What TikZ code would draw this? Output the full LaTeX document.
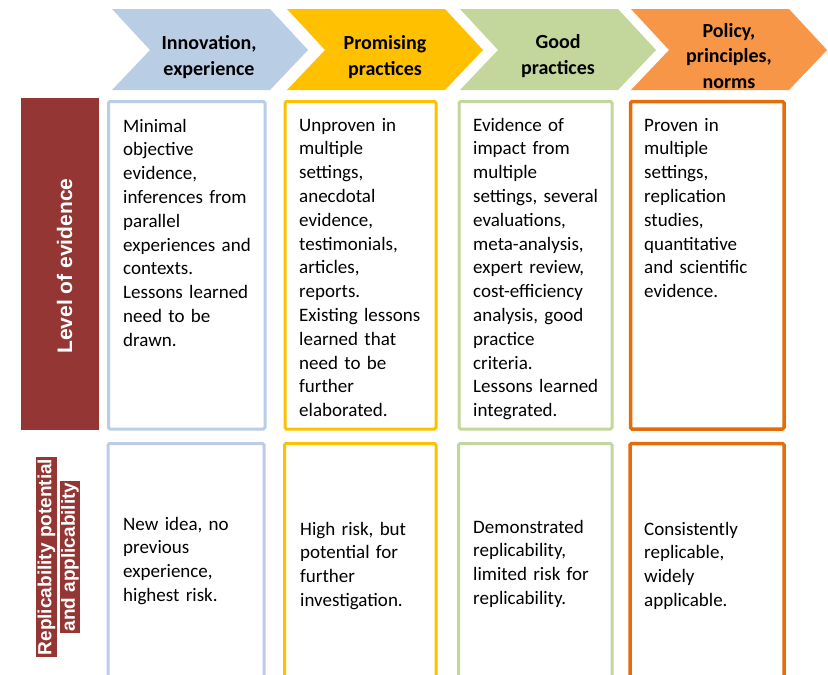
\documentclass[tikz,border=0pt]{standalone}
\usepackage{fontspec}
\setmainfont{Carlito}
\newfontfamily\barfont{Liberation Sans}

\definecolor{innoblue}{HTML}{B9CDE5}
\definecolor{promyellow}{HTML}{FFC000}
\definecolor{goodgreen}{HTML}{C3D69B}
\definecolor{policyorange}{HTML}{F79646}
\definecolor{policyline}{HTML}{E46C0A}
\definecolor{evred}{HTML}{943634}

\tikzset{
  head/.style={font=\fontsize{20}{25.5}\selectfont\bfseries, align=center, inner sep=0pt},
  cell/.style={font=\fontsize{19}{23.8}\selectfont, text width=160pt, align=left,
    anchor=base west, inner sep=0pt},
  bartext/.style={font=\barfont\bfseries, text=white, rotate=90},
  frame/.style={line width=3pt, rounded corners=1.5pt},
}

% chevron with notch: left x, fill colour
\newcommand{\chevron}[2]{%
  \fill[#2] (#1,9) -- ++(158,0) -- ++(38,41) -- ++(-38,40) -- ++(-158,0) -- ++(38,-40) -- cycle;}

\begin{document}
\begin{tikzpicture}[x=1pt, y=-1pt]
  \clip (0,0) rectangle (828,675);

  % stages
  \chevron{112}{innoblue}
  \chevron{287}{promyellow}
  \chevron{460}{goodgreen}
  \chevron{631}{policyorange}
  \node[head] (innohead) at (209,57) {Innovation,\\experience};
  \node[head] (promhead) at (385,57) {Promising\\practices};
  \node[head] (goodhead) at (558,56) {Good\\practices};
  \node[head] (policyhead) at (729,56) {Policy,\\principles,\\norms};

  % row labels
  \fill[evred] (21,98) rectangle (99,430);
  \node[bartext, font=\barfont\bfseries\fontsize{21}{25}\selectfont] (levellabel) at (64.5,266) {Level of evidence};
  \node[bartext, fill=evred, inner sep=1.5pt, font=\barfont\bfseries\fontsize{19}{23}\selectfont]
    (replabel) at (46.5,557) {Replicability potential};
  \node[bartext, fill=evred, inner sep=1.5pt, font=\barfont\bfseries\fontsize{19}{23}\selectfont]
    (applabel) at (70,557) {and applicability};

  % level of evidence
  \draw[frame, innoblue] (108.5,101.5) rectangle (265,429);
  \draw[frame, promyellow] (285,101.5) rectangle (436,429);
  \draw[frame, goodgreen] (459,101.5) rectangle (612,429);
  \draw[frame, policyline, line width=3.5pt] (630.5,101.5) rectangle (784,429);

  \node[cell] (innolevel) at (123,132) {Minimal\\objective\\evidence,\\inferences from\\parallel\\experiences and\\contexts.\\Lessons learned\\need to be\\drawn.};
  \node[cell] (promlevel) at (299,131) {Unproven in\\multiple\\settings,\\anecdotal\\evidence,\\testimonials,\\articles,\\reports.\\Existing lessons\\learned that\\need to be\\further\\elaborated.};
  \node[cell] (goodlevel) at (473,131) {Evidence of\\impact from\\multiple\\settings, several\\evaluations,\\meta-analysis,\\expert review,\\cost-efficiency\\analysis, good\\practice\\criteria.\\Lessons learned\\integrated.};
  \node[cell] (policylevel) at (644,131) {Proven in\\multiple\\settings,\\replication\\studies,\\quantitative\\and scientific\\evidence.};

  % replicability
  \draw[frame, innoblue] (108,443.5) rectangle (264,700);
  \draw[frame, promyellow] (284.5,443.5) rectangle (436,700);
  \draw[frame, goodgreen] (458.5,443.5) rectangle (612,700);
  \draw[frame, policyline, line width=3.5pt] (630,443.5) rectangle (784,700);

  \node[cell] (innorep) at (123,530) {New idea, no\\previous\\experience,\\highest risk.};
  \node[cell] (promrep) at (300,535) {High risk, but\\potential for\\further\\investigation.};
  \node[cell] (goodrep) at (473,533) {Demonstrated\\replicability,\\limited risk for\\replicability.};
  \node[cell] (policyrep) at (644,535) {Consistently\\replicable,\\widely\\applicable.};
\end{tikzpicture}
\end{document}
